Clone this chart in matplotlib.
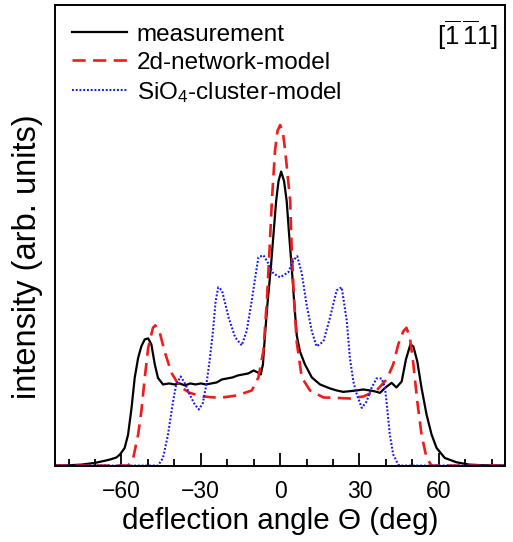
'''
Scattering intensity vs deflection angle: measurement and two models
'''
import matplotlib
matplotlib.use('Agg')
import matplotlib.pyplot as plt
from matplotlib.ticker import MultipleLocator

plt.rcParams['font.family'] = ['Liberation Sans', 'DejaVu Sans']
plt.rcParams['mathtext.fontset'] = 'custom'
plt.rcParams['mathtext.rm'] = 'Liberation Sans'
plt.rcParams['mathtext.it'] = 'Liberation Sans:italic'

# measurement (black)
meas_x = [-85, -80, -75, -70, -66, -64.4, -62, -60.6, -58.8, -57.5, -56.2, -55, -53.7,
          -52.5, -51.2, -49.9, -48.7, -47.4, -46.2, -44.3, -42, -40, -38, -36, -34, -32,
          -30, -28, -26, -24, -22, -20, -18, -16, -14, -12, -10, -8.5, -7.3, -6.5, -5.7,
          -4.7, -3.5, -2.5, -1.5, -0.6, 0.4, 1.5, 2.5, 3.4, 4.4, 5.3, 6.3, 7.5, 9.4, 12,
          15.1, 18.9, 21.4, 23.9, 26.4, 28.9, 31.5, 34, 36, 37.8, 39.7, 42.2, 44, 46,
          47.6, 49.3, 50.4, 51.9, 53.5, 55.4, 57.3, 59.2, 62.3, 66.7, 71.5, 77, 85]
meas_y = [0, 0.3, 1, 2.7, 5, 6, 8, 11, 17.6, 31, 57.6, 87.6, 107.6, 119, 126, 127, 121,
          101, 87.6, 81, 82, 81, 82, 80, 82, 81, 82, 81, 82, 83, 86, 87, 88, 90, 91, 92,
          95, 93, 91, 101, 131, 164, 197.6, 231, 264, 284, 293.6, 284, 264, 231, 197.6,
          164, 130, 114, 101, 88, 81, 77, 75, 73.6, 74.3, 75, 76, 75, 74, 72.6, 77.6,
          82.6, 78, 84, 106, 121, 119, 104, 77.6, 51, 31, 17.6, 7.6, 3.3, 1, 0.3, 0]

# 2d-network-model (red dashed)
net_x = [-85, -57.5, -55.6, -53.7, -52.5, -51.2, -49.9, -48.1, -47.2, -45.5, -43.7, -41.1,
         -38, -34.2, -29.2, -22.9, -16.4, -10.7, -8.2, -6.3, -5, -4, -3.1, -1.9, -1, 0,
         1, 1.9, 3.8, 4.4, 5.3, 6.3, 8.2, 11.3, 16.4, 21, 26.4, 31.5, 36.5, 40.3, 42.8,
         44.7, 46.6, 47.8, 49.1, 50.3, 51.9, 53.5, 55.4, 57.3, 85]
net_y = [0, 0, 7, 31, 54, 87.6, 117.6, 137.6, 140, 132.6, 114, 92.6, 79, 72.6, 69, 67.6,
         70, 75, 88, 115, 165, 215, 265, 315, 334, 340, 334, 315, 265, 215, 165, 123, 88,
         75, 68, 67.6, 67, 69, 75, 86, 101, 121, 134, 137.6, 127.6, 104, 64, 31, 7.6, 0, 0]

# SiO4-cluster-model (blue dotted)
clu_x = [-85, -46.2, -44.3, -42.4, -40.5, -39.3, -37.6, -36.1, -34.2, -32.3, -30.7, -29.2,
         -27.9, -26.7, -25.4, -24.4, -23.4, -22, -19.5, -17, -14.5, -12.6, -10.7, -9.4,
         -8.2, -6.3, -4.4, -2.5, 0, 3.1, 5, 6.5, 8.2, 10, 12, 13.8, 16.4, 18.9, 21.4,
         23.3, 25.2, 26.4, 27.7, 29, 30.9, 32.7, 34.6, 36.5, 38.4, 39.7, 40.5, 41.5, 42.8,
         44.7, 45.5, 85]
clu_y = [0, 0, 7.6, 31, 64, 81, 89, 82.6, 71, 61, 56, 62.6, 81, 104, 134, 164, 178, 175,
         148, 128, 120, 135, 165, 188, 208, 210, 201.6, 191.6, 188, 193, 205, 209, 192,
         161, 134, 119, 124, 148, 175, 178, 145, 107.6, 84, 71, 57.6, 64, 77.6, 87, 87,
         77.6, 57.6, 31, 11, 1, 0, 0]

fig = plt.figure(figsize=(5.13, 5.42), dpi=100)
ax = fig.add_axes([0.108, 0.141, 0.876, 0.850])

ax.plot(meas_x, meas_y, color='black', lw=1.6, label='measurement')
ax.plot(net_x, net_y, color='#ee1c1c', lw=1.9, linestyle=(0, (5, 2.8)),
        label='2d-network-model')
ax.plot(clu_x, clu_y, color='#1a1ae6', lw=1.5, linestyle=(0, (0.9, 0.9)),
        label='SiO$_4$-cluster-model')

ax.set_xlim(-85, 85)
ax.set_ylim(0, 460)
ax.xaxis.set_major_locator(MultipleLocator(30))
ax.xaxis.set_minor_locator(MultipleLocator(10))
ax.set_yticks([])
ax.tick_params(axis='x', which='both', direction='in', top=False, labelsize=16.5, pad=10.5)
ax.tick_params(axis='x', which='major', length=9.5, width=1.3)
ax.tick_params(axis='x', which='minor', length=5, width=1.3)
for s in ax.spines.values():
    s.set_linewidth(1.4)

ax.set_xlabel('deflection angle Θ (deg)', fontsize=21.3, labelpad=2.5)
ax.set_ylabel('intensity (arb. units)', fontsize=23.5)
ax.yaxis.set_label_coords(-0.027, 0.454)

ax.text(0.985, 0.97, r'[$\overline{1}\,\overline{1}$1]', transform=ax.transAxes,
        ha='right', va='top', fontsize=18.5)

ax.legend(loc='upper left', bbox_to_anchor=(0.016, 0.98), frameon=False,
          fontsize=17.5, handlelength=2.25, handletextpad=0.4, labelspacing=0.25,
          borderaxespad=0, borderpad=0.4)

plt.savefig('out.png', dpi=100)
